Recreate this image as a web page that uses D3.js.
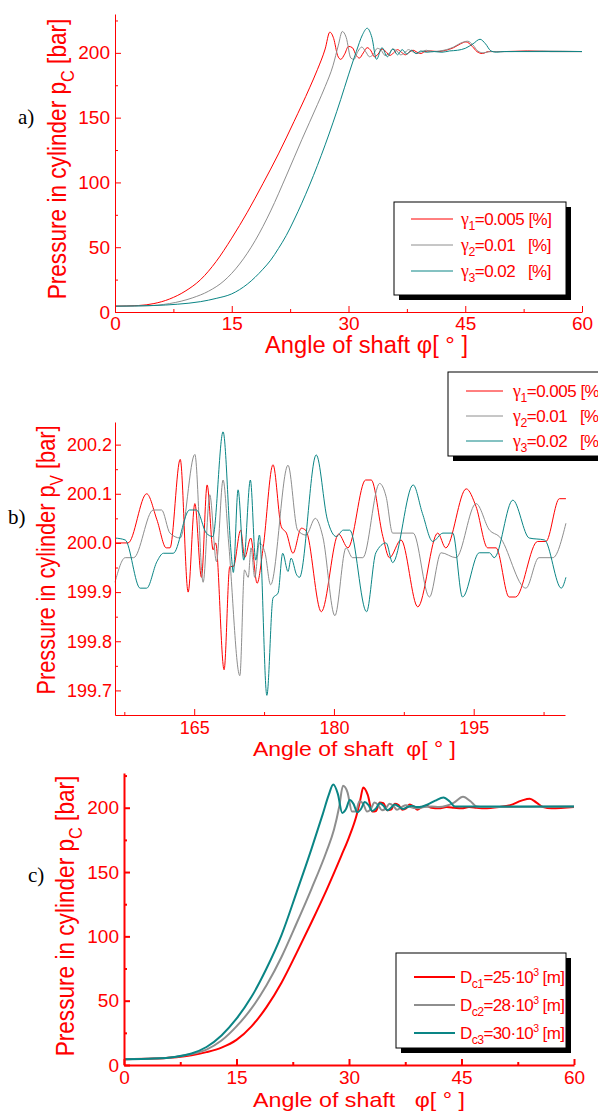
<!DOCTYPE html>
<html>
<head>
<meta charset="utf-8">
<script src="https://cdn.jsdelivr.net/npm/d3@7"></script>
<style>
body { margin: 0; background: #fff; }
svg { display: block; }
</style>
</head>
<body>
<svg id="fig" width="598" height="1113"></svg>
<script>
/*
 * Pressure in cylinder vs. shaft angle, three panels a), b), c)
 */

// ---- panel a : gamma variation, full stroke ----
var aRed = [[0,4.5],[3,5],[5,6.5],[7,10],[9,16],[11,25],[13,39],[15,57],[17,77],[19,99],[21,122],[23,147],[25,173],[26,187],[27,203],[27.6,216],[28.1,211],[28.6,198],[29.0,195],[29.5,199],[30.0,205],[30.5,204],[31.0,198],[31.4,196],[31.9,200],[32.4,204],[32.9,201.5],[33.3,197],[33.8,199],[34.3,203],[34.8,201],[35.3,198],[35.8,200],[36.3,202.5],[36.8,200.5],[37.3,198.5],[37.8,200.5],[38.3,202],[38.8,200.5],[39.3,199.5],[39.8,201],[40.5,201.5],[41.5,201],[42.5,202],[43.5,204],[44.4,207],[45.1,208.5],[45.9,205],[46.5,201],[47.2,199.5],[48,201],[50,201],[53,201.5],[56,201],[60,201]];
var aGray = [[0,4.5],[4,4.8],[7,6.5],[10,11],[12,16],[14,24],[16,37],[18,55],[20,78],[22,105],[24,133],[26,160],[27,174],[28,190],[28.7,206],[29.2,216.5],[29.7,212],[30.3,196],[30.7,195],[31.2,201],[31.7,204.5],[32.2,201],[32.7,197],[33.2,199],[33.7,203.5],[34.2,202],[34.7,198],[35.2,199.5],[35.7,203],[36.2,201.5],[36.7,198.5],[37.2,200],[37.7,202.5],[38.2,201],[38.8,199.5],[39.4,201],[40,202],[40.8,201],[41.7,201.5],[42.6,202.5],[43.5,204.5],[44.4,207.5],[45.3,209],[46,206],[46.6,201.5],[47.3,200],[48.2,201],[51,201],[55,201.5],[60,201]];
var aTeal = [[0,4.5],[5,5],[8,6],[11,8],[13,10.5],[15,14],[17,21.5],[19,33],[20,40],[21,49],[22,59],[23,71],[24,84],[25,98],[26,113],[27,129],[28,146],[29,164],[30,183],[31,201],[31.8,214],[32.4,219],[33.0,212],[33.6,195],[34.3,204],[35.0,197],[35.7,203],[36.3,198.5],[36.9,202.5],[37.5,199],[38.1,202],[38.7,199.5],[39.3,201.5],[40,200.5],[41,201],[42,200.5],[43,201.5],[44,202],[45,203.5],[46,207],[46.9,210.5],[47.6,207],[48.3,201.5],[49,200.5],[50,201],[60,201]];

// ---- panel b : zoom on the steady part ----
var bRed = [[156.5,200.0],[157.9,200.0],[159.9,200.10],[161.0,200.047],[162.0,199.99],[162.4,199.99],[163.5,200.17],[164.35,199.90],[165.07,200.08],[165.78,199.93],[166.39,200.118],[167.03,199.986],[167.3,200.0],[168.21,199.742],[168.82,199.952],[169.2,199.952],[169.99,200.026],[170.42,199.97],[171.07,200.01],[171.75,199.918],[172.4,199.99],[173.46,200.159],[174.35,200.033],[174.9,200.02],[175.6,199.979],[176.5,200.03],[177.0,200.025],[178.64,199.86],[180.5,200.018],[181.5,199.99],[183.4,200.128],[184.0,200.128],[185.25,200.013],[185.96,199.97],[187.2,200.006],[189.0,199.87],[191.14,200.02],[192.0,199.99],[194.2,200.11],[195.25,200.074],[196.5,199.99],[197.4,199.99],[198.8,199.89],[199.5,199.89],[201.86,200.003],[202.75,200.003],[204.2,200.09],[204.9,200.09]];
var bGray = [[156.5,199.92],[157.6,199.97],[158.5,199.97],[160.6,200.067],[161.5,200.067],[162.4,200.02],[163.5,200.01],[165.07,200.18],[165.96,199.92],[166.67,200.098],[167.39,199.962],[168.1,200.128],[168.7,200.0],[169.9,199.73],[170.4,199.945],[170.8,199.93],[171.1,199.99],[171.5,199.93],[172.0,200.0],[172.6,199.98],[173.2,199.915],[175.07,200.158],[176.1,200.026],[177.0,200.016],[178.0,200.05],[178.8,200.013],[180.1,199.852],[181.3,199.99],[182.0,199.97],[183.1,199.97],[184.9,200.121],[185.6,200.094],[186.3,200.02],[188.5,200.02],[190.25,199.89],[191.5,199.98],[193.1,199.97],[195.25,200.08],[196.7,200.026],[197.75,200.013],[200.6,199.908],[202.0,199.97],[203.5,199.97],[204.9,200.04]];
var bTeal = [[156.5,200.01],[157.6,200.006],[159.2,199.908],[159.9,199.908],[161.0,199.962],[161.7,199.979],[162.75,199.979],[164.5,200.067],[165.25,200.067],[166.3,200.02],[167.0,200.013],[168.1,200.226],[169.0,199.972],[169.2,199.94],[169.71,200.108],[170.32,199.965],[171.03,200.128],[171.6,199.965],[172.0,200.016],[172.8,199.69],[173.46,199.888],[174.0,199.898],[174.5,199.979],[175.07,199.942],[175.4,199.969],[176.0,199.935],[176.3,199.93],[178.1,200.179],[179.3,200.047],[180.25,200.013],[181.0,200.026],[181.7,200.026],[183.5,199.86],[184.5,199.98],[185.6,200.0],[186.3,199.96],[188.5,200.118],[189.5,200.06],[190.6,200.003],[191.7,200.02],[192.75,200.02],[193.8,199.89],[195.6,199.98],[196.7,199.98],[197.2,199.97],[199.2,200.087],[200.96,200.01],[202.6,200.006],[204.4,199.908],[204.9,199.93]];

// ---- panel c : cylinder diameter variation ----
var cRed = [[0,4.5],[4,5],[7,6],[9,7.5],[11,10],[13,13.5],[15,19.5],[17,30],[19,45],[21,64],[23,87],[25,111],[27,136],[29,163],[30,177],[31,194],[31.5,206],[31.9,215.7],[32.5,210],[33.1,197],[33.6,197.5],[34.1,204],[34.6,203.5],[35.1,198],[35.6,198.5],[36.1,203],[36.6,202],[37.1,198.5],[37.6,199.5],[38.1,202.5],[38.6,201],[39.1,198.5],[39.7,200.5],[40.3,201.5],[41,200],[42,199.5],[43,200.5],[44,200],[45,199.5],[46,200.5],[47,200],[48,199.5],[50,200.5],[51.5,202],[53,205.5],[54.1,207],[55,204],[55.9,200.5],[57,199.5],[60,200.5]];
var cGray = [[0,4.5],[4,5],[7,6.5],[9,8.5],[11,12],[13,19],[15,30],[17,44],[19,62],[21,84],[23,110],[25,137],[27,166],[28,183],[28.7,201],[29.2,217],[29.8,212],[30.4,197],[30.9,197],[31.4,205],[31.9,203],[32.4,197],[32.9,199],[33.4,204],[33.9,202],[34.4,198],[34.9,199.5],[35.4,203],[35.9,201.5],[36.4,198.5],[37,200.5],[37.6,202],[38.2,200.5],[39,199.5],[40,200.5],[41,201],[42,200.5],[43,201.5],[44,204],[45.2,208.5],[46.2,205],[47,201],[48,200.5],[60,201]];
var cTeal = [[0,4.5],[4,5],[7,6.5],[9,9],[11,14],[13,23],[15,36],[17,53],[19,75],[21,101],[23,134],[25,168],[26.5,195],[27.3,210],[27.9,218],[28.5,211],[29.1,196],[29.6,199],[30.1,206],[30.6,203],[31.1,196.5],[31.6,199],[32.1,204.5],[32.6,202],[33.1,197.5],[33.6,199.5],[34.1,203.5],[34.6,201.5],[35.1,198],[35.6,200],[36.1,202.5],[36.6,201],[37.2,199],[37.8,200.5],[38.4,201.5],[39,200.5],[39.8,201],[40.5,202.5],[41.5,205.5],[42.6,208],[43.4,205],[44.1,201],[45,201],[60,201]];

// ticks
var ticksX60 = [0, 15, 30, 45, 60];
var minorX60 = [7.5, 22.5, 37.5, 52.5];
var ticksP = [0, 50, 100, 150, 200];
var minorP = [25, 75, 125, 175, 225];
var ticksXb = [165, 180, 195];
var minorXb = [157.5, 172.5, 187.5, 202.5];
var ticksPb = [199.7, 199.8, 199.9, 200.0, 200.1, 200.2];
var minorPb = [199.75, 199.85, 199.95, 200.05, 200.15];

// legend texts: [text, kind]
var legendGamma = [
    [['γ', 'greek'], ['1', 'sub'], ['=0.005 [%]', '']],
    [['γ', 'greek'], ['2', 'sub'], ['=0.01   [%]', '']],
    [['γ', 'greek'], ['3', 'sub'], ['=0.02   [%]', '']]
];
var legendDiam = [
    [['D', ''], ['c1', 'sub'], ['=25·10', ''], ['3', 'sup'], [' [m]', '']],
    [['D', ''], ['c2', 'sub'], ['=28·10', ''], ['3', 'sup'], [' [m]', '']],
    [['D', ''], ['c3', 'sub'], ['=30·10', ''], ['3', 'sup'], [' [m]', '']]
];

var RED = '#ff0000', GRAY = '#8e8e8e', TEAL = '#0a8585';
var SANS = '"Liberation Sans", Arial, sans-serif';
var SERIF = '"Liberation Serif", "Times New Roman", serif';

var svg = d3.select('#fig');

function addParts(txt, parts, size) {
    var shift = 0;
    parts.forEach(function (p) {
        var t = txt.append('tspan').text(p[0]);
        var dy = 0;
        if (p[1] === 'sub') { t.style('font-size', (size * 0.72) + 'px'); dy = size * 0.3; }
        else if (p[1] === 'sup') { t.style('font-size', (size * 0.62) + 'px'); dy = -size * 0.42; }
        else if (p[1] === 'greek') { t.style('font-family', SERIF).style('font-size', (size * 1.05) + 'px'); }
        t.attr('dy', dy - shift);
        shift = dy;
    });
}

function drawPanel(p) {
    var x = d3.scaleLinear().domain(p.xDomain).range(p.xRange);
    var y = d3.scaleLinear().domain(p.yDomain).range(p.yRange);
    var g = svg.append('g');

    // lines
    var line = d3.line()
        .x(function (d) { return x(d[0]); })
        .y(function (d) { return y(d[1]); })
        .curve(d3.curveMonotoneX);
    g.selectAll('path.series').data(p.series).enter()
        .append('path')
        .attr('class', 'series')
        .attr('fill', 'none')
        .attr('stroke', function (d) { return d.color; })
        .attr('stroke-width', p.lineWidth)
        .attr('stroke-linejoin', 'round')
        .attr('d', function (d) { return line(d.data); });

    // axes
    var gx = g.append('g').attr('transform', 'translate(0,' + p.yRange[0] + ')');
    gx.call(d3.axisBottom(x).tickValues(p.xTicks).tickSize(-6).tickSizeOuter(0)
        .tickPadding(p.padX).tickFormat(d3.format('d')));
    var gxm = g.append('g').attr('transform', 'translate(0,' + p.yRange[0] + ')');
    gxm.call(d3.axisBottom(x).tickValues(p.xMinor).tickSize(-3).tickSizeOuter(0).tickFormat(''));
    gxm.select('.domain').remove();

    var gy = g.append('g').attr('transform', 'translate(' + p.xRange[0] + ',0)');
    gy.call(d3.axisLeft(y).tickValues(p.yTicks).tickSize(-6).tickSizeOuter(0)
        .tickPadding(p.padY).tickFormat(d3.format(p.yFormat)));
    var gym = g.append('g').attr('transform', 'translate(' + p.xRange[0] + ',0)');
    gym.call(d3.axisLeft(y).tickValues(p.yMinor).tickSize(-3).tickSizeOuter(0).tickFormat(''));
    gym.select('.domain').remove();

    [gx, gxm, gy, gym].forEach(function (a) {
        a.selectAll('path, line').attr('stroke', RED).attr('stroke-width', p.axisWidth);
        a.selectAll('text').attr('fill', RED).style('font-size', p.tickFont + 'px')
            .style('font-family', SANS);
    });

    // x title
    g.append('text')
        .attr('x', p.xTitle.x).attr('y', p.xTitle.y)
        .attr('fill', RED)
        .style('font-family', SANS).style('font-size', p.xTitle.size + 'px')
        .attr('textLength', p.xTitle.len).attr('lengthAdjust', 'spacingAndGlyphs')
        .style('white-space', 'pre')
        .text(p.xTitle.text);

    // y title, rotated
    var yt = g.append('text')
        .attr('transform', 'translate(' + p.yTitle.x + ',' + p.yTitle.y + ') rotate(-90) scale(' + p.yTitle.sx + ',1)')
        .attr('text-anchor', 'middle')
        .attr('fill', RED)
        .style('font-family', SANS).style('font-size', p.yTitle.size + 'px');
    addParts(yt, [['Pressure in cylinder p', ''], [p.yTitle.sub, 'sub'], [' [bar]', '']], p.yTitle.size);

    // panel letter
    g.append('text')
        .attr('x', p.label.x).attr('y', p.label.y)
        .style('font-family', SERIF).style('font-size', '21px')
        .attr('fill', '#000')
        .text(p.label.text);

    // legend
    var L = p.legend;
    var lg = g.append('g');
    lg.append('rect').attr('x', L.x + 5).attr('y', L.y + 5).attr('width', L.w).attr('height', L.h).attr('fill', '#000');
    lg.append('rect').attr('x', L.x).attr('y', L.y).attr('width', L.w).attr('height', L.h)
        .attr('fill', '#fff').attr('stroke', '#000').attr('stroke-width', 1);
    p.series.forEach(function (s, i) {
        var ry = L.rowY + i * L.dy;
        lg.append('line')
            .attr('x1', L.x1).attr('x2', L.x2).attr('y1', ry).attr('y2', ry)
            .attr('stroke', s.color).attr('stroke-width', L.lw);
        var t = lg.append('text')
            .attr('x', L.tx).attr('y', ry + 6)
            .attr('fill', RED)
            .style('font-family', SANS).style('font-size', L.size + 'px')
            .style('letter-spacing', L.ls + 'px')
            .style('white-space', 'pre');
        addParts(t, L.items[i], L.size);
    });
}

// a)
drawPanel({
    xDomain: [0, 60], xRange: [115, 582],
    yDomain: [0, 230], yRange: [312, 14],
    xTicks: ticksX60, xMinor: minorX60, yTicks: ticksP, yMinor: minorP, yFormat: 'd',
    series: [{data: aRed, color: RED}, {data: aGray, color: GRAY}, {data: aTeal, color: TEAL}],
    lineWidth: 1, axisWidth: 1,
    tickFont: 19, padX: 5, padY: 5,
    xTitle: {text: 'Angle of shaft φ[ ° ]', x: 265, y: 353, size: 23, len: 203},
    yTitle: {x: 66, y: 159, size: 26, sx: 0.87, sub: 'C'},
    label: {text: 'a)', x: 18, y: 124},
    legend: {x: 394, y: 202, w: 172, h: 93, x1: 411, x2: 453, tx: 461, rowY: 219, dy: 26,
             lw: 1, size: 17, ls: -0.5, items: legendGamma}
});

// b)
drawPanel({
    xDomain: [156.5, 204.8], xRange: [115, 565],
    yDomain: [199.65, 200.246], yRange: [715, 422],
    xTicks: ticksXb, xMinor: minorXb, yTicks: ticksPb, yMinor: minorPb, yFormat: '.1f',
    series: [{data: bRed, color: RED}, {data: bGray, color: GRAY}, {data: bTeal, color: TEAL}],
    lineWidth: 1, axisWidth: 1,
    tickFont: 18, padX: 6, padY: 3,
    xTitle: {text: 'Angle of shaft  φ[ ° ]', x: 253, y: 756, size: 21, len: 203},
    yTitle: {x: 55, y: 560, size: 25, sx: 0.87, sub: 'V'},
    label: {text: 'b)', x: 8, y: 524},
    legend: {x: 448, y: 372, w: 170, h: 84, x1: 466, x2: 503, tx: 513, rowY: 391, dy: 25,
             lw: 1, size: 17, ls: -0.5, items: legendGamma}
});

// c)
drawPanel({
    xDomain: [0, 60], xRange: [124, 574],
    yDomain: [0, 227], yRange: [1065, 773],
    xTicks: ticksX60, xMinor: minorX60, yTicks: ticksP, yMinor: minorP, yFormat: 'd',
    series: [{data: cRed, color: RED}, {data: cGray, color: GRAY}, {data: cTeal, color: TEAL}],
    lineWidth: 2, axisWidth: 2,
    tickFont: 19, padX: 6, padY: 5,
    xTitle: {text: 'Angle of shaft   φ[ ° ]', x: 253, y: 1107, size: 21, len: 212},
    yTitle: {x: 74, y: 916, size: 26, sx: 0.87, sub: 'C'},
    label: {text: 'c)', x: 28, y: 882},
    legend: {x: 396, y: 953, w: 170, h: 95, x1: 414, x2: 455, tx: 460, rowY: 977, dy: 28,
             lw: 2, size: 17, ls: -0.6, items: legendDiam}
});
</script>
</body>
</html>
